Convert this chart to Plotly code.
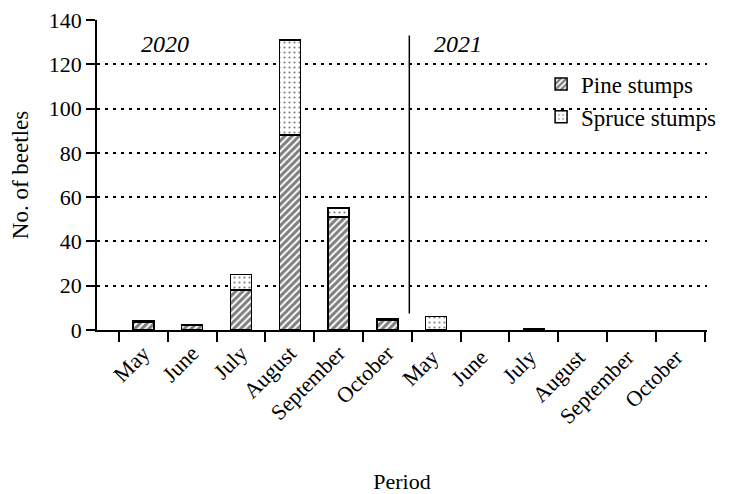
import plotly.graph_objects as go

categories = ["May", "June", "July", "August", "September", "October",
              "May ", "June ", "July ", "August ", "September ", "October "]
pine = [3.3, 2.2, 18, 88, 51, 4.2, None, None, 0.6, None, None, None]
spruce = [0.7, 0.3, 7, 43, 4, 0.8, 6, None, None, None, None, None]
y_ticks = [0, 20, 40, 60, 80, 100, 120, 140]

FONT = "Liberation Serif"

fig = go.Figure()
fig.add_trace(go.Bar(
    x=categories, y=pine, name="Pine stumps", width=0.43,
    marker=dict(color="white", line=dict(color="black", width=1.5),
                pattern=dict(shape="/", fgcolor="black", bgcolor="white",
                             size=5, solidity=0.6)),
))
fig.add_trace(go.Bar(
    x=categories, y=spruce, name="Spruce stumps", width=0.43,
    marker=dict(color="white", line=dict(color="black", width=1.5),
                pattern=dict(shape=".", fgcolor="black", bgcolor="white",
                             size=5, solidity=0.15)),
))

fig.add_shape(type="line", xref="x", yref="y", x0=5.45, x1=5.45, y0=7.5, y1=133,
              line=dict(color="black", width=1.5))

fig.add_annotation(x=0.45, y=129, xref="x", yref="y", text="<i>2020</i>",
                   showarrow=False, font=dict(family=FONT, size=24, color="black"))
fig.add_annotation(x=6.45, y=129, xref="x", yref="y", text="<i>2021</i>",
                   showarrow=False, font=dict(family=FONT, size=24, color="black"))

fig.update_layout(
    barmode="stack",
    width=730, height=486,
    margin=dict(l=89, r=31, t=12, b=164),
    plot_bgcolor="white", paper_bgcolor="white",
    font=dict(family=FONT, size=21, color="black"),
    legend=dict(x=0.728, y=0.863, xanchor="left", yanchor="top",
                traceorder="normal",
                bgcolor="rgba(0,0,0,0)", font=dict(family=FONT, size=23),
                tracegroupgap=31, itemwidth=30),
    xaxis=dict(
        range=[-0.95, 11.55], tickson="boundaries", ticks="outside", ticklen=10,
        tickcolor="black", tickwidth=1.5, tickangle=-45, automargin=False,
        showline=True, linecolor="black", linewidth=1.5, showgrid=False,
        title=dict(text="Period", font=dict(family=FONT, size=22), standoff=48),
        tickfont=dict(family=FONT, size=22),
    ),
    yaxis=dict(
        range=[0, 140], tickvals=y_ticks, ticks="outside", ticklen=9,
        tickcolor="black", tickwidth=1.5, automargin=False,
        ticklabeloverflow="allow",
        showline=True, linecolor="black", linewidth=1.5,
        showgrid=True, gridcolor="black", griddash="3px,5px", gridwidth=1.5,
        zeroline=False,
        title=dict(text="No. of beetles", font=dict(family=FONT, size=23), standoff=14),
        tickfont=dict(family=FONT, size=22),
    ),
)

fig.write_html("out.html")
